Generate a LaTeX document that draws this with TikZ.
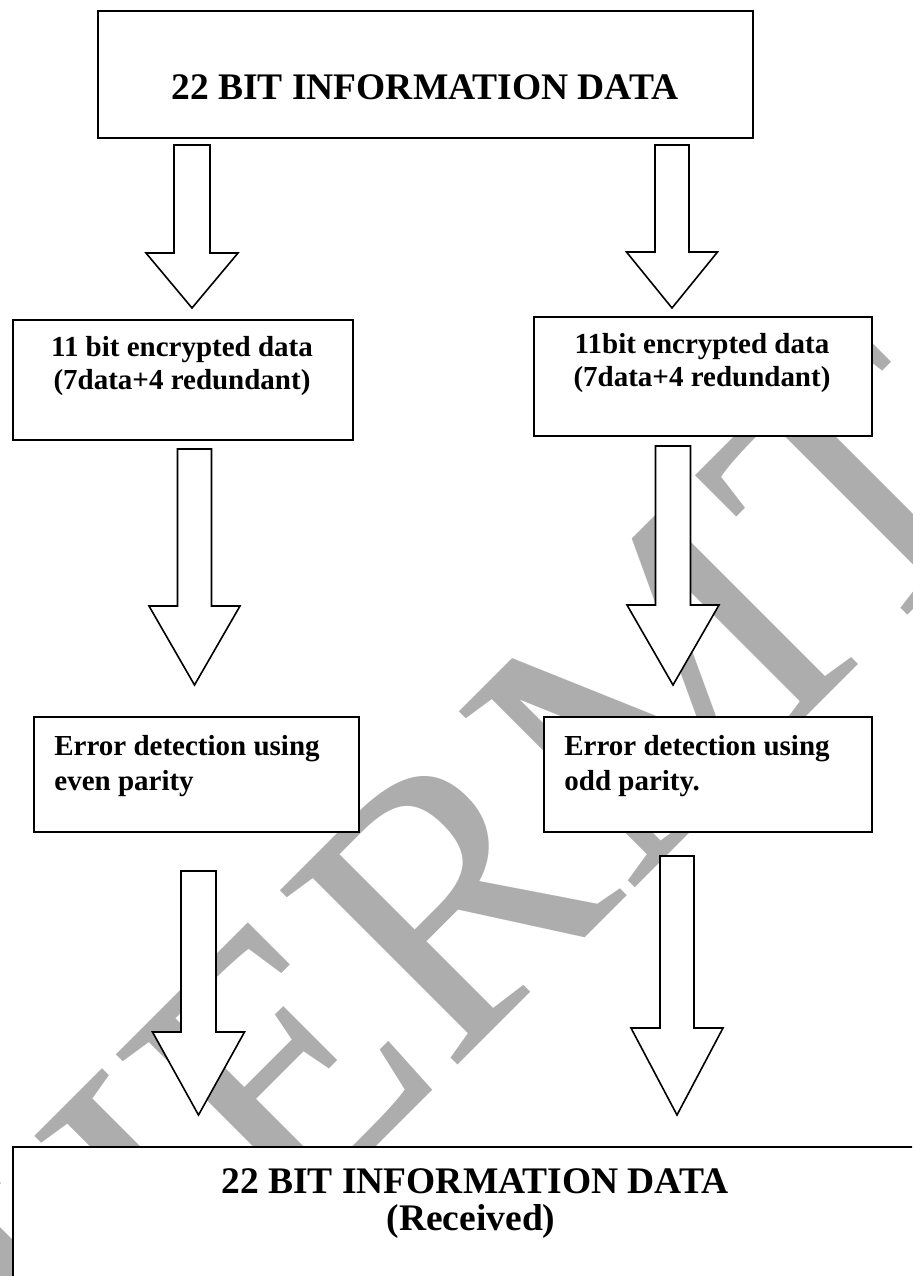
\documentclass[tikz,border=0pt]{standalone}
\usepackage{fontspec}
\setmainfont{Liberation Serif}
\usetikzlibrary{calc}
\definecolor{wmgray}{RGB}{173,173,173}
% hollow block arrow from coordinate #1 down to coordinate #2
% #3 half shaft width, #4 half head width, #5 head length
\newcommand\fatarrow[5]{%
  \draw[fatarrow] let \p1=(#1), \p2=(#2) in
    (\x1-#3,\y1) -- (\x1+#3,\y1) -- (\x1+#3,\y2+#5) -- (\x1+#4,\y2+#5)
    -- (\x2,\y2) -- (\x1-#4,\y2+#5) -- (\x1-#3,\y2+#5) -- cycle;}
\begin{document}
\begin{tikzpicture}[x=0.5pt,y=-0.5pt,
  box/.style={draw=black, line width=1pt, fill=white, inner sep=0pt, anchor=north west},
  fatarrow/.style={draw=black, line width=0.8pt, fill=white, line join=miter},
  boxtext/.style={font=\bfseries\fontsize{14.5pt}{17pt}\selectfont, inner sep=0pt},
  titletext/.style={font=\bfseries\fontsize{18.75pt}{20.5pt}\selectfont, inner sep=0pt, anchor=base},
  wmark/.style={text=wmgray, font=\fontsize{190pt}{190pt}\selectfont, inner sep=0pt, rotate=45, anchor=base west}
]
\useasboundingbox (0,0) rectangle (912,1276);
\clip (0,0) rectangle (912,1276);
\fill[white] (0,0) rectangle (912,1276);

% background watermark
\node[wmark] (wm) at (90,1433) {IJERMT};

% boxes
\node[box, minimum width=327.5pt, minimum height=63.5pt] (top) at (97,10) {};
\node[box, minimum width=170pt, minimum height=60pt] (encL) at (12,319) {};
\node[box, minimum width=169pt, minimum height=59.5pt] (encR) at (533,316) {};
\node[box, minimum width=162.5pt, minimum height=57.5pt] (errL) at (33,716) {};
\node[box, minimum width=164pt, minimum height=57.5pt] (errR) at (543,716) {};
\node[box, minimum width=464pt, minimum height=77pt] (recv) at (12,1146) {};

% box texts
\node[titletext] (toptitle) at (425,99) {22 BIT INFORMATION DATA};
\node[boxtext, anchor=base] (encLa) at (182,356) {11 bit encrypted data};
\node[boxtext, anchor=base] (encLb) at (182,389) {(7data+4 redundant)};
\node[boxtext, anchor=base] (encRa) at (702,353) {11bit encrypted data};
\node[boxtext, anchor=base] (encRb) at (702,386) {(7data+4 redundant)};
\node[boxtext, anchor=base west] (errLa) at (54,755) {Error detection using};
\node[boxtext, anchor=base west] (errLb) at (54,790) {even parity};
\node[boxtext, anchor=base west] (errRa) at (564,755) {Error detection using};
\node[boxtext, anchor=base west] (errRb) at (564,790) {odd parity.};
\node[titletext] (recva) at (475,1193) {22 BIT INFORMATION DATA};
\node[titletext] (recvb) at (471,1230) {(Received)};

% arrow end points
\coordinate (l1s) at (192,145);   \coordinate (l1e) at (192,308);
\coordinate (r1s) at (672,145);   \coordinate (r1e) at (672,308);
\coordinate (l2s) at (194.5,449); \coordinate (l2e) at (194.5,685);
\coordinate (r2s) at (673,446);   \coordinate (r2e) at (673,685);
\coordinate (l3s) at (198.5,871); \coordinate (l3e) at (198.5,1115);
\coordinate (r3s) at (677,856);   \coordinate (r3e) at (677,1115);

% block arrows
\fatarrow{l1s}{l1e}{9pt}{23pt}{27.5pt}
\fatarrow{r1s}{r1e}{8.5pt}{22.75pt}{28pt}
\fatarrow{l2s}{l2e}{8.5pt}{22.75pt}{39.5pt}
\fatarrow{r2s}{r2e}{8.75pt}{23pt}{40pt}
\fatarrow{l3s}{l3e}{8.75pt}{23pt}{41.5pt}
\fatarrow{r3s}{r3e}{8.5pt}{23pt}{43.5pt}
\end{tikzpicture}
\end{document}
